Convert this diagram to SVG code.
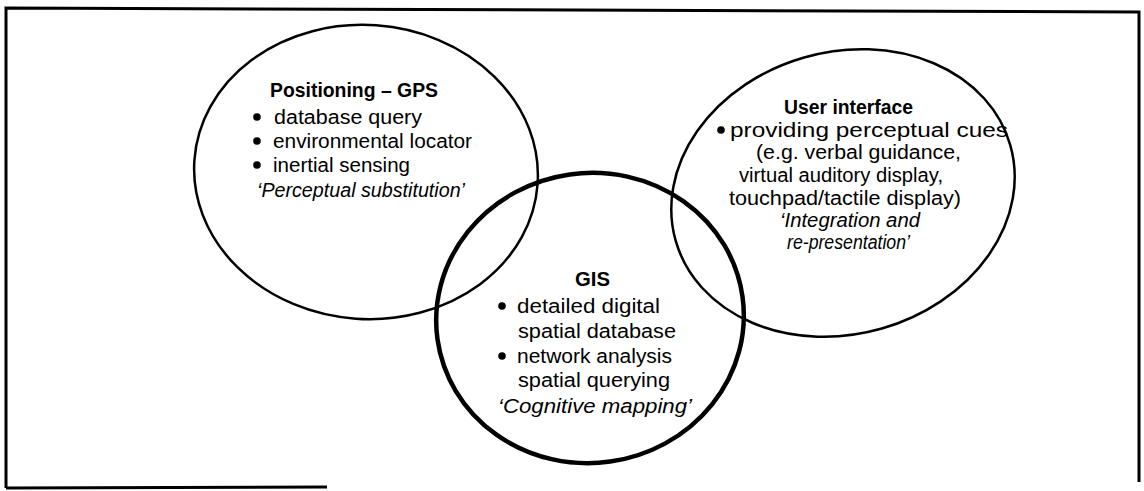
<svg xmlns="http://www.w3.org/2000/svg" width="1144" height="491" viewBox="0 0 1144 491">
<style>
.frame{fill:none;stroke:#000;stroke-width:3}
.ell{fill:none;stroke:#000;stroke-width:2.5}
.ell.thick{stroke-width:4.5}
text{font-family:"Liberation Sans",Arial,sans-serif;font-size:20px;fill:#000}
.b{font-weight:bold}
.i{font-style:italic}
.dot{fill:#000}
</style>
<rect width="1144" height="491" fill="#fff"/>
<g id="frame">
<path class="frame" d="M6,488 L6,8 L1139,12 L1139,482"/>
<path class="frame" d="M6,488 L327,487"/>
</g>
<g id="connectors"></g>
<g id="positioning">
<ellipse class="ell" cx="366" cy="172" rx="172" ry="147" transform="rotate(4 366 172)"/>
<text class="b" x="270" y="97" textLength="168" lengthAdjust="spacingAndGlyphs">Positioning – GPS</text>
<circle class="dot" cx="257" cy="117" r="3.8"/>
<text x="274" y="124" textLength="148" lengthAdjust="spacingAndGlyphs">database query</text>
<circle class="dot" cx="257" cy="141" r="3.8"/>
<text x="273" y="148" textLength="199" lengthAdjust="spacingAndGlyphs">environmental locator</text>
<circle class="dot" cx="257" cy="165" r="3.8"/>
<text x="273" y="172" textLength="137" lengthAdjust="spacingAndGlyphs">inertial sensing</text>
<text class="i" x="257" y="197" textLength="208" lengthAdjust="spacingAndGlyphs">‘Perceptual substitution’</text>
</g>
<g id="user-interface">
<ellipse class="ell" cx="843" cy="193" rx="174" ry="141" transform="rotate(-16 843 193)"/>
<text class="b" x="784" y="114" textLength="129" lengthAdjust="spacingAndGlyphs">User interface</text>
<circle class="dot" cx="721" cy="130" r="3.8"/>
<text x="730" y="137" font-size="21" textLength="278" lengthAdjust="spacingAndGlyphs">providing perceptual cues</text>
<text x="756" y="159" textLength="205" lengthAdjust="spacingAndGlyphs">(e.g. verbal guidance,</text>
<text x="739" y="182" textLength="204" lengthAdjust="spacingAndGlyphs">virtual auditory display,</text>
<text x="729" y="205" textLength="232" lengthAdjust="spacingAndGlyphs">touchpad/tactile display)</text>
<text class="i" x="780" y="227" textLength="140" lengthAdjust="spacingAndGlyphs">‘Integration and</text>
<text class="i" x="787" y="249" textLength="123" lengthAdjust="spacingAndGlyphs">re-presentation’</text>
</g>
<g id="gis">
<ellipse class="ell thick" cx="590" cy="318" rx="154" ry="145" transform="rotate(-8 590 318)"/>
<text class="b" x="575" y="286" textLength="35" lengthAdjust="spacingAndGlyphs">GIS</text>
<circle class="dot" cx="502" cy="306" r="3.8"/>
<text x="517" y="313" textLength="143" lengthAdjust="spacingAndGlyphs">detailed digital</text>
<text x="518" y="338" textLength="158" lengthAdjust="spacingAndGlyphs">spatial database</text>
<circle class="dot" cx="502" cy="356" r="3.8"/>
<text x="517" y="363" textLength="155" lengthAdjust="spacingAndGlyphs">network analysis</text>
<text x="518" y="387" textLength="152" lengthAdjust="spacingAndGlyphs">spatial querying</text>
<text class="i" x="498" y="413" textLength="194" lengthAdjust="spacingAndGlyphs">‘Cognitive mapping’</text>
</g>
</svg>
